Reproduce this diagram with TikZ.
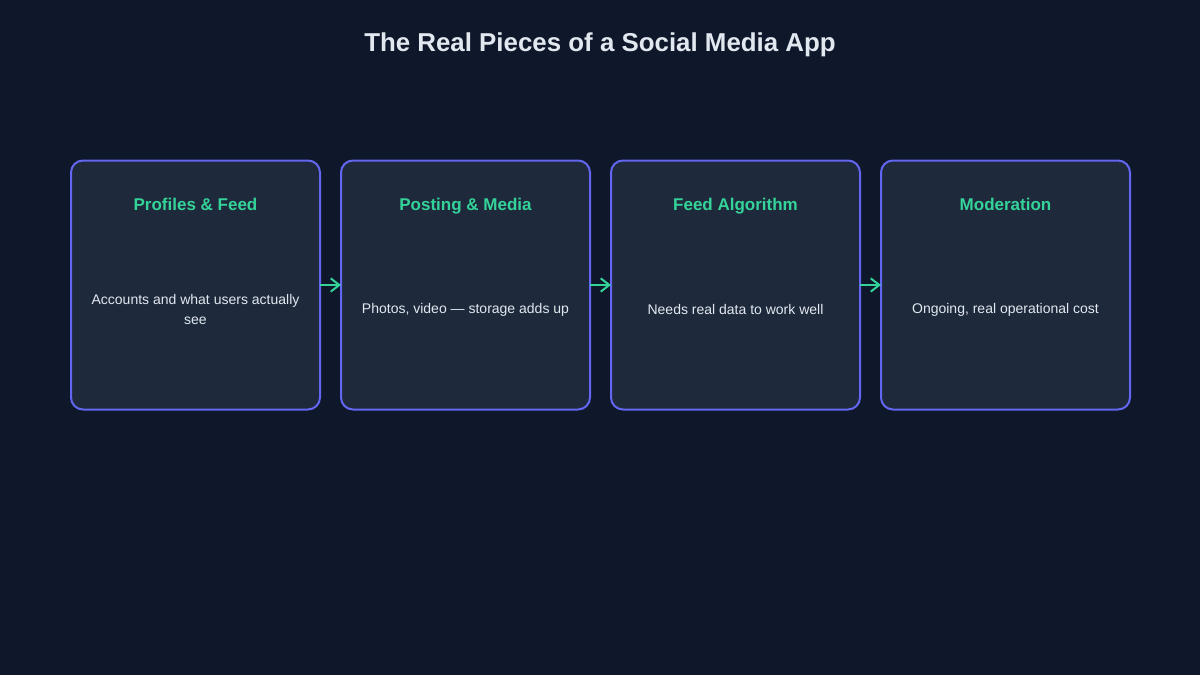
\documentclass[tikz,border=0pt]{standalone}
\usepackage{fontspec}
\setmainfont{Liberation Sans}
\usepackage{xcolor}
\usepackage{tikz}
\usetikzlibrary{positioning, arrows.meta}
\definecolor{pagebg}{HTML}{0F172A}
\definecolor{cardbg}{HTML}{1E293B}
\definecolor{cardline}{HTML}{6366F1}
\definecolor{accentgreen}{HTML}{34D399}
\definecolor{softwhite}{HTML}{E2E8F0}

\begin{document}
\begin{tikzpicture}[x=0.75pt, y=-0.75pt, node distance=15.75pt, >={Straight Barb[length=6.5pt, width=10pt]}]
    \tikzstyle{card} = [rectangle, rounded corners=9pt, minimum width=186.75pt, minimum height=186.75pt, draw=cardline, line width=1.5pt, fill=cardbg, inner sep=0pt, outer sep=0pt]
    \tikzstyle{heading} = [text=accentgreen, font=\fontsize{12.75}{15}\selectfont\bfseries, anchor=base]
    \tikzstyle{body} = [text=softwhite, font=\fontsize{10.5}{15}\selectfont, text width=170pt, align=flush center, anchor=center]
    \tikzstyle{link} = [->, draw=accentgreen, line width=1.5pt]

    % Background and title
    \fill [pagebg] (0,0) rectangle (1200,675);
    \node [text=softwhite, font=\fontsize{19.4}{23}\selectfont\bfseries, anchor=base] (title) at (600,51) {The Real Pieces of a Social Media App};

    % Cards
    \node [card] (profiles) at (195.5,285) {};
    \node [card, right=of profiles] (posting) {};
    \node [card, right=of posting] (algorithm) {};
    \node [card, right=of algorithm] (moderation) {};

    % Headings
    \node [heading] (profiles_head) at ([yshift=-37.25pt]profiles.north) {Profiles \& Feed};
    \node [heading] (posting_head) at ([yshift=-37.25pt]posting.north) {Posting \& Media};
    \node [heading] (algorithm_head) at ([yshift=-37.25pt]algorithm.north) {Feed Algorithm};
    \node [heading] (moderation_head) at ([yshift=-37.25pt]moderation.north) {Moderation};

    % Descriptions
    \node [body] (profiles_text) at ([yshift=-18.5pt]profiles.center) {Accounts and what users actually see};
    \node [body] (posting_text) at ([yshift=-18.5pt]posting.center) {Photos, video — storage adds up};
    \node [body] (algorithm_text) at ([yshift=-18.5pt]algorithm.center) {Needs real data to work well};
    \node [body] (moderation_text) at ([yshift=-18.5pt]moderation.center) {Ongoing, real operational cost};

    % Arrows
    \draw [link] (profiles) -- (posting);
    \draw [link] (posting) -- (algorithm);
    \draw [link] (algorithm) -- (moderation);
\end{tikzpicture}
\end{document}
